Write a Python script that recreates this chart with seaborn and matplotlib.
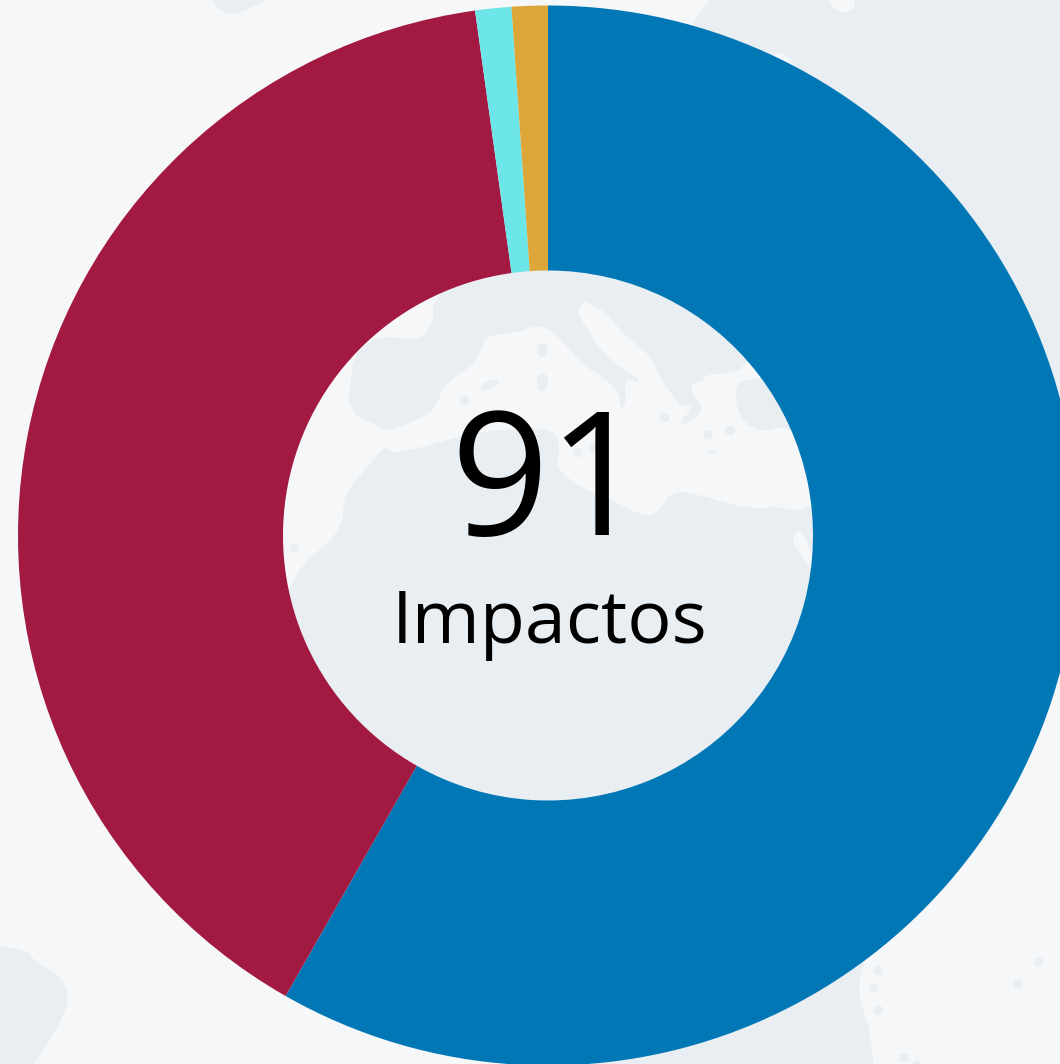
import numpy as np
import matplotlib
matplotlib.use("Agg")
import matplotlib.pyplot as plt
from matplotlib.patches import Polygon, Ellipse
import seaborn as sns

# ---- data ----
categories = ["Azul", "Rojo", "Cian", "Ámbar"]
values = [53, 36, 1, 1]
colors = ["#0277b6", "#a21a42", "#6de6ea", "#dca638"]
total_label = "91"
caption = "Impactos"

SEA = "#f5f7f9"
LAND = "#e9eef2"
W, H = 1060, 1064
CX, CY, R_OUT, R_IN = 548, 535.5, 530, 265

sns.set_theme(style="white")
plt.rcParams["font.family"] = ["Open Sans", "DejaVu Sans"]


def z(points):
    """Decorative map outlines traced in the zoomed crop of the centre."""
    return [(280 + x / 2.904, 270 + y / 3) for x, y in points]


def smooth(points, passes=3):
    p = np.asarray(points, float)
    for _ in range(passes):
        q = np.roll(p, -1, axis=0)
        p = np.column_stack([0.75 * p + 0.25 * q, 0.25 * p + 0.75 * q]).reshape(-1, 2)
    return p


def flip(p):
    p = np.asarray(p, float).copy()
    p[:, 1] = H - p[:, 1]
    return p


fig = plt.figure(figsize=(W / 100, H / 100), dpi=100, facecolor=SEA)
ax = fig.add_axes([0, 0, 1, 1])
ax.set_facecolor(SEA)


def blob(points, color=LAND, passes=3):
    ax.add_patch(Polygon(flip(smooth(points, passes)), closed=True, fc=color, ec="none", zorder=1))


def dot(x, y, rx=4.7, ry=None, color=LAND):
    ry = rx if ry is None else ry
    ax.add_patch(Ellipse((x, H - y), 2 * rx, 2 * ry, fc=color, ec="none", zorder=2))


# northern land mass, running under the ring into the top right corner
north = z([(440, 85), (450, 140), (420, 200), (380, 208), (280, 197), (212, 260), (205, 350),
           (197, 390), (225, 445), (270, 455), (300, 487), (390, 455), (450, 420), (475, 345),
           (560, 285), (580, 250), (600, 195), (680, 190), (750, 163), (800, 190), (880, 285),
           (930, 315), (985, 365), (990, 420), (1005, 400), (1000, 340), (1015, 325), (1045, 340),
           (1040, 325), (950, 265), (900, 190), (860, 125), (890, 85), (910, 115), (940, 120),
           (1000, 195), (1080, 260), (1100, 320), (1165, 412), (1195, 425), (1165, 445),
           (1165, 472), (1235, 420), (1195, 370), (1195, 340), (1225, 335), (1240, 312),
           (1320, 310), (1355, 280)]) + [
    (800, 300), (1000, 400), (1300, 395), (1300, -300), (980, -300), (710, 0), (700, 12),
    (685, 38), (560, 180)]
blob(north, passes=2)

east = z([(1380, 325), (1325, 335), (1322, 400), (1350, 465), (1410, 485), (1440, 470),
          (1490, 485), (1600, 480), (1640, 300)])
blob(east)

south = z([(25, 960), (65, 885), (120, 835), (165, 790), (185, 740), (185, 680), (225, 625),
           (280, 560), (305, 530), (330, 552), (420, 530), (520, 500), (600, 483), (790, 470),
           (815, 530), (800, 590), (860, 645), (960, 690), (1070, 745), (1100, 720), (1145, 657),
           (1250, 685), (1370, 718), (1440, 708), (1500, 725), (1540, 705), (1620, 700)]) + [
    (880, 900), (865, 958), (858, 987), (863, 1010), (871, 1035), (876, 1100), (620, 1100),
    (400, 900), (200, 700)]
blob(south, passes=2)

# small corner land masses
blob([(-30, 945), (25, 948), (35, 962), (60, 975), (70, 998), (58, 1028), (20, 1085), (-30, 1085)])
blob([(208, -12), (216, 9), (238, 16), (290, -14)])

# light inlets inside the land
blob(z([(1490, 800), (1510, 775), (1535, 830), (1570, 910), (1540, 895), (1490, 820)]), SEA, 2)
blob([(820, -10), (833, 8), (845, 14), (857, 6), (850, -10)], SEA)
blob([(770, 56), (783, 52), (797, 68), (780, 70)], SEA)
dot(*z([(1183, 412)])[0], 4, 2.5, SEA)

# islands
for (zx, zy), rx, ry in [((762, 240), 5.5, 7), ((762, 336), 5.5, 9), ((536, 391), 4.7, 4.7),
                         ((42, 835), 4.7, 4.7), ((1117, 443), 4.7, 4.7), ((1243, 495), 4.7, 4.7),
                         ((1307, 482), 4.7, 4.7), ((1255, 547), 5, 1.5), ((865, 547), 4.7, 4.7),
                         ((910, 533), 4.7, 4.7)]:
    dot(*z([(zx, zy)])[0], rx, ry)
blob(z([(582, 345), (625, 325), (640, 342), (585, 368)]), LAND, 1)
for x, y in [(878, 971), (874, 988), (878, 1010), (904, 1058), (917, 1065), (1039, 962), (1018, 984)]:
    dot(x, y)

# ---- ring ----
ax.pie(values, labels=None, colors=sns.color_palette(colors), startangle=90, counterclock=False,
       center=(CX, H - CY), radius=R_OUT,
       wedgeprops=dict(width=R_OUT - R_IN, linewidth=0, zorder=5))
ax.set_xlim(0, W)
ax.set_ylim(0, H)
ax.set_aspect("equal")
ax.axis("off")

ax.text(CX - 0.5 + 1, H - 535, total_label, ha="center", va="baseline", fontsize=124,
        fontweight="normal", color="black", zorder=6)
ax.text(CX + 2, H - 643, caption, ha="center", va="baseline", fontsize=53,
        color="black", zorder=6)

fig.savefig("out.png", dpi=100, facecolor=SEA)
